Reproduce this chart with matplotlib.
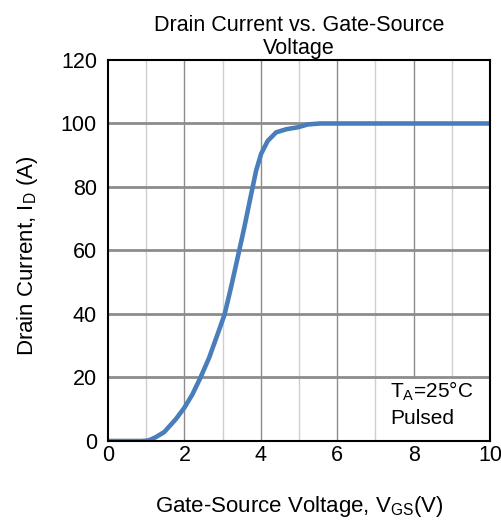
import matplotlib
matplotlib.use("Agg")
import matplotlib.pyplot as plt
from matplotlib.patches import Rectangle

plt.rcParams['font.family'] = ['Liberation Sans', 'DejaVu Sans']

# curve
vgs = [0.0, 0.5, 0.9, 1.07, 1.25, 1.47, 1.77, 2.0, 2.21, 2.41, 2.65, 2.87, 3.05, 3.22, 3.40,
       3.57, 3.75, 3.88, 4.01, 4.18, 4.40, 4.67, 4.97, 5.23, 5.55, 6.0, 7.0, 8.0, 9.0, 10.0]
i_d = [0.0, 0.0, 0.0, 0.2, 1.2, 2.8, 6.8, 10.5, 14.7, 19.7, 26.3, 33.7, 39.8, 48.4, 58.1,
       67.4, 77.9, 85.3, 90.5, 94.5, 97.2, 98.2, 98.8, 99.7, 100.0, 100.0, 100.0, 100.0, 100.0, 100.0]

x_ticks = [0, 2, 4, 6, 8, 10]
y_ticks = [0, 20, 40, 60, 80, 100, 120]

fig = plt.figure(figsize=(5.01, 5.22), dpi=100)
ax = fig.add_axes([0.2156, 0.1552, 0.7625, 0.7299])

# grid lines
for v in range(1, 10):
    ax.axvline(v, color='#8c8c8c' if v % 2 == 0 else '#cfcfcf', lw=1.0, zorder=1)
for h in y_ticks[1:-1]:
    ax.axhline(h, color='#8c8c8c', lw=2.0, zorder=1)

# white box behind the note
ax.add_patch(Rectangle((7.15, 0), 2.85, 19.55, facecolor='white', edgecolor='none', zorder=2))

ax.plot(vgs, i_d, color='#4A7EBB', lw=3.3, solid_capstyle='round', solid_joinstyle='round', zorder=3)

ax.set_xlim(0, 10)
ax.set_ylim(0, 120)
ax.set_xticks(x_ticks)
ax.set_yticks(y_ticks)
ax.tick_params(length=0, labelsize=15.5)
ax.tick_params(axis='x', pad=3)
ax.tick_params(axis='y', pad=8)
for s in ax.spines.values():
    s.set_linewidth(1.5)
    s.set_color('black')
    s.set_zorder(5)

ax.set_title('Drain Current vs. Gate-Source\nVoltage', fontsize=15.5, pad=4, linespacing=1.15)
ax.set_xlabel('Gate-Source Voltage, V$_{\\mathregular{GS}}$(V)', fontsize=16)
ax.set_ylabel('Drain Current, I$_{\\mathregular{D}}$ (A)', fontsize=16)
ax.xaxis.set_label_coords(0.5, -0.14)
ax.yaxis.set_label_coords(-0.177, 0.485)

ax.text(7.39, 13.6, 'T$_{\\mathregular{A}}$=25°C', fontsize=15, va='baseline', ha='left', zorder=4)
ax.text(7.39, 5.4, 'Pulsed', fontsize=15, va='baseline', ha='left', zorder=4)

fig.savefig('out.png', dpi=100)
